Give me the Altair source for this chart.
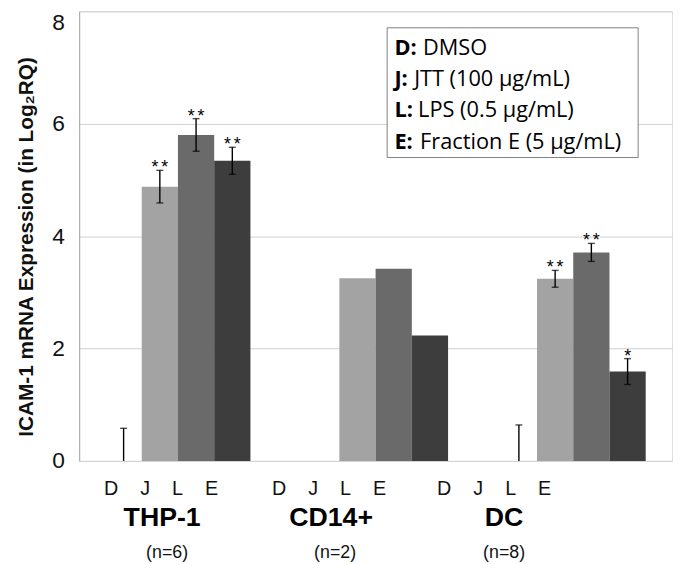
import altair as alt
import pandas as pd

# ---------------- data ----------------
groups = ["THP-1", "CD14+", "DC"]
n_labels = ["(n=6)", "(n=2)", "(n=8)"]
treatments = ["D", "J", "L", "E"]
thp1_values = [0.0, 4.88, 5.80, 5.34]
cd14_values = [0.0, 3.25, 3.42, 2.23]
dc_values = [0.0, 3.24, 3.71, 1.59]
thp1_errors = [0.58, 0.29, 0.29, 0.24]
cd14_errors = [None, None, None, None]
dc_errors = [0.64, 0.15, 0.16, 0.23]
thp1_stars = ["", "**", "**", "**"]
cd14_stars = ["", "", "", ""]
dc_stars = ["", "**", "**", "*"]
legend_keys = ["D:", "J:", "L:", "E:"]
legend_texts = ["DMSO", "JTT (100 µg/mL)", "LPS (0.5 µg/mL)", "Fraction E (5 µg/mL)"]
y_ticks = [0, 2, 4, 6, 8]
y_title = "ICAM-1 mRNA Expression (in Log\u2082RQ)"

# ---------------- styles ----------------
BAR_COLORS = ["#ffffff", "#a3a3a3", "#6a6a6a", "#3d3d3d"]
FONT = "Liberation Sans, Arial, sans-serif"
LEG_FONT = "Open Sans, sans-serif"
W, H = 600, 455
# horizontal shifts of the hand-placed category texts (letters, name, n)
LABEL_DX = {"THP-1": (-17, -16, -11), "CD14+": (-47, -45, -41), "DC": (-80, -70, -70)}
LEG_BOX = (311.7, 565.7, 16.7, 148.0)
LEG_X = 319
LEG_ROW_Y = [37, 68.7, 100, 132.7]
LEG_DESC_DX = [29, 20, 24, 26]

rows = []
for g, vals, errs, stars in [
    ("THP-1", thp1_values, thp1_errors, thp1_stars),
    ("CD14+", cd14_values, cd14_errors, cd14_stars),
    ("DC", dc_values, dc_errors, dc_stars),
]:
    for t, v, e, s in zip(treatments, vals, errs, stars):
        rows.append({"group": g, "treatment": t, "value": v, "err": e, "star": s})
df = pd.DataFrame(rows)

x_enc = alt.X("group:N", sort=groups, axis=None,
              scale=alt.Scale(paddingInner=0.2667, paddingOuter=0.1333))
xo_enc = alt.XOffset("treatment:N", sort=treatments,
                     scale=alt.Scale(paddingInner=0, paddingOuter=0))

base = alt.Chart(df)

bars = base.mark_bar().encode(
    x=x_enc, xOffset=xo_enc,
    y=alt.Y("value:Q", scale=alt.Scale(domain=[0, 8], nice=False),
            axis=alt.Axis(
                values=y_ticks, format="d", title=y_title, grid=True, gridColor="#d0d0d0",
                domainColor="#a6a6a6", ticks=False, labelFont=FONT, labelFontSize=23,
                labelColor="#111111", labelPadding=15,
                labelBaseline={"condition": {"test": "datum.value == 8", "value": "top"}, "value": "middle"},
                titleFont=FONT, titleFontSize=21, titleFontWeight="bold", titleColor="#111111",
                titlePadding=15, titleY=238)),
    color=alt.Color("treatment:N", sort=treatments, legend=None,
                    scale=alt.Scale(domain=treatments, range=BAR_COLORS)),
)

err_base = base.transform_filter("isValid(datum.err)").transform_calculate(
    hi="datum.value + datum.err", lo="max(0, datum.value - datum.err)")

err_rule = err_base.mark_rule(color="#000000", strokeWidth=1.4).encode(
    x=x_enc, xOffset=xo_enc, y="lo:Q", y2="hi:Q")
cap_hi = err_base.mark_tick(color="#000000", thickness=1.4, size=7).encode(
    x=x_enc, xOffset=xo_enc, y="hi:Q")
cap_lo = err_base.transform_filter("datum.lo > 0").mark_tick(
    color="#000000", thickness=1.4, size=7).encode(x=x_enc, xOffset=xo_enc, y="lo:Q")

stars = err_base.transform_filter("datum.star != ''").transform_calculate(
    star_disp="join(split(datum.star, ''), '\u2006')"
).mark_text(font=FONT, fontSize=18, baseline="alphabetic", dy=3, color="#000000").encode(
    x=x_enc, xOffset=xo_enc, y="hi:Q", text="star_disp:N")

# category texts under the plot
lab_df = pd.DataFrame({"group": groups, "n": n_labels,
                       "letters": ["\u00a0\u00a0\u00a0\u00a0".join(treatments)] * len(groups)})
label_layers = []
for g in groups:
    dx_l, dx_g, dx_n = LABEL_DX[g]
    lb = alt.Chart(lab_df).transform_filter(alt.datum.group == g)
    label_layers.append(lb.mark_text(font=FONT, fontSize=20, dx=dx_l, color="#111111",
                                     baseline="middle").encode(
        x=x_enc, y=alt.value(H + 28), text="letters:N"))
    label_layers.append(lb.mark_text(font=FONT, fontSize=27, fontWeight="bold", dx=dx_g,
                                     color="#000000", baseline="middle").encode(
        x=x_enc, y=alt.value(H + 58), text="group:N"))
    label_layers.append(lb.mark_text(font=FONT, fontSize=18, dx=dx_n, color="#111111",
                                     baseline="middle").encode(
        x=x_enc, y=alt.value(H + 93), text="n:N"))

# legend box
box_df = pd.DataFrame({"k": [0]})
x0, x1, y0, y1 = LEG_BOX
leg_box = alt.Chart(box_df).mark_rect(fill="#ffffff", stroke="#7f7f7f", strokeWidth=1).encode(
    x=alt.value(x0), x2=alt.value(x1), y=alt.value(y0), y2=alt.value(y1))
leg_layers = [leg_box]
for i, (k, txt) in enumerate(zip(legend_keys, legend_texts)):
    ldf = pd.DataFrame({"k": [k], "t": [txt]})
    leg_layers.append(alt.Chart(ldf).mark_text(font=LEG_FONT, fontSize=22, fontWeight="bold",
                                               align="left", baseline="middle", color="#000000").encode(
        x=alt.value(LEG_X), y=alt.value(LEG_ROW_Y[i]), text="k:N"))
    leg_layers.append(alt.Chart(ldf).mark_text(font=LEG_FONT, fontSize=22,
                                               align="left", baseline="middle", color="#000000").encode(
        x=alt.value(LEG_X + LEG_DESC_DX[i]), y=alt.value(LEG_ROW_Y[i]), text="t:N"))

chart = alt.layer(bars, err_rule, cap_hi, cap_lo, stars, *label_layers, *leg_layers).properties(
    width=W, height=H,
    autosize=alt.AutoSizeParams(type="none"),
    padding={"left": 72, "right": 5, "top": 0, "bottom": 101},
).configure_view(stroke="#d0d0d0", strokeWidth=1).configure(background="#ffffff")

chart.save("out.html", embed_options={"renderer": "svg", "actions": False})
